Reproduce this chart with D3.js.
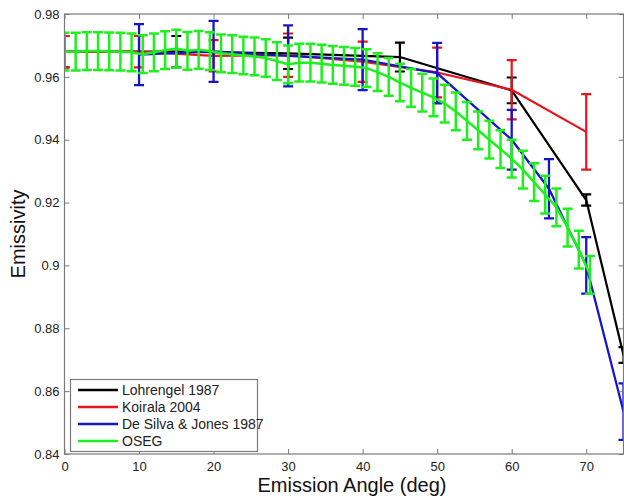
<!DOCTYPE html>
<html>
<head>
<meta charset="utf-8">
<script src="https://cdn.jsdelivr.net/npm/d3@7"></script>
<style>
  body { margin: 0; background: #fff; }
  svg { display: block; font-family: "Liberation Sans", Arial, sans-serif; }
</style>
</head>
<body>
<svg id="chart" width="624" height="500"></svg>
<script>
// data
var lohAngle = [0, 15, 30, 45, 60, 70, 75];
var lohValue = [0.968, 0.968, 0.9675, 0.9663, 0.9557, 0.9208, 0.8715];
var lohErr   = [0.005, 0.005, 0.005, 0.0046, 0.0041, 0.0018, 0.0025];

var koiAngle = [0, 10, 20, 30, 40, 50, 60, 70];
var koiValue = [0.968, 0.968, 0.9667, 0.9669, 0.9648, 0.9614, 0.9559, 0.9425];
var koiErr   = [0.005, 0.005, 0.005, 0.0069, 0.0064, 0.0079, 0.0094, 0.012];

var dsjAngle = [10, 20, 30, 40, 50, 60, 65, 70, 75];
var dsjValue = [0.9671, 0.9681, 0.9667, 0.9655, 0.9612, 0.94, 0.9244, 0.90, 0.8535];
var dsjErr   = [0.0097, 0.0097, 0.0097, 0.0097, 0.0096, 0.0095, 0.0094, 0.009, 0.009];

var osegAngle = [0, 1.5, 3, 4.5, 6, 7.5, 9, 10.5, 12, 13.5, 15, 16.5, 18, 19.5, 21, 22.5, 24, 25.5,
  27, 28.5, 30, 31.5, 33, 34.5, 36, 37.5, 39, 40.5, 42, 43.5, 45, 46.5, 48, 49.5, 51, 52.5,
  54, 55.5, 57, 58.5, 60, 61.5, 63, 64.5, 66, 67.5, 69, 70.5];
var osegValue = [0.968, 0.968, 0.9682, 0.9682, 0.9681, 0.968, 0.9678, 0.9672, 0.9678, 0.9685,
  0.969, 0.9683, 0.9686, 0.9682, 0.9675, 0.9672, 0.9668, 0.9665, 0.966, 0.965, 0.964, 0.9645,
  0.9645, 0.9642, 0.9638, 0.9635, 0.9632, 0.9628, 0.9615, 0.96, 0.9582, 0.9565, 0.955, 0.9535,
  0.9515, 0.949, 0.946, 0.943, 0.94, 0.937, 0.934, 0.9305, 0.9265, 0.9225, 0.9185, 0.912,
  0.905, 0.897];
var osegErr = 0.006;

var xTicks = [0, 10, 20, 30, 40, 50, 60, 70];
var yTicks = [0.84, 0.86, 0.88, 0.9, 0.92, 0.94, 0.96, 0.98];

var legendNames = ["Lohrengel 1987", "Koirala 2004", "De Silva & Jones 1987", "OSEG"];
var colors = ["#000000", "#e8141b", "#1616c8", "#1ef01e"];

var svg = d3.select("#chart");
var mLeft = 64.5, mRight = 623.5, mTop = 14, mBottom = 454;

var x = d3.scaleLinear().domain([0, 75]).range([mLeft, mRight]);
var y = d3.scaleLinear().domain([0.84, 0.98]).range([mBottom, mTop]);

svg.append("clipPath").attr("id", "plotclip")
  .append("rect")
  .attr("x", mLeft).attr("y", mTop)
  .attr("width", mRight - mLeft).attr("height", mBottom - mTop);

var plot = svg.append("g").attr("clip-path", "url(#plotclip)");

function series(angles, values, errs, color, cap, width) {
  var pts = angles.map(function(a, i) {
    return { a: a, v: values[i], e: Array.isArray(errs) ? errs[i] : errs };
  });
  var g = plot.append("g");
  g.append("path")
    .datum(pts)
    .attr("fill", "none")
    .attr("stroke", color)
    .attr("stroke-width", width)
    .attr("stroke-linejoin", "round")
    .attr("d", d3.line().x(function(d) { return x(d.a); }).y(function(d) { return y(d.v); }));
  var bars = g.selectAll("g.bar").data(pts).enter().append("g")
    .attr("stroke", color).attr("stroke-width", width);
  bars.append("line")
    .attr("x1", function(d) { return x(d.a); }).attr("x2", function(d) { return x(d.a); })
    .attr("y1", function(d) { return y(d.v + d.e); }).attr("y2", function(d) { return y(d.v - d.e); });
  bars.append("line")
    .attr("x1", function(d) { return x(d.a) - cap; }).attr("x2", function(d) { return x(d.a) + cap; })
    .attr("y1", function(d) { return y(d.v + d.e); }).attr("y2", function(d) { return y(d.v + d.e); });
  bars.append("line")
    .attr("x1", function(d) { return x(d.a) - cap; }).attr("x2", function(d) { return x(d.a) + cap; })
    .attr("y1", function(d) { return y(d.v - d.e); }).attr("y2", function(d) { return y(d.v - d.e); });
}

series(lohAngle, lohValue, lohErr, colors[0], 5, 2.2);
series(koiAngle, koiValue, koiErr, colors[1], 5, 2.2);
series(dsjAngle, dsjValue, dsjErr, colors[2], 5, 2.3);
series(osegAngle, osegValue, osegErr, colors[3], 5, 2.5);

// axes, matlab style box with inward ticks
var axisColor = "#7a7a7a";
function styleAxis(g) {
  g.select(".domain").remove();
  g.selectAll(".tick line").attr("stroke", axisColor);
  g.selectAll(".tick text").attr("fill", "#222").style("font-size", "13px");
}
var fmt = function(d) { return String(+d.toFixed(2)); };

svg.append("g").attr("transform", "translate(0," + mBottom + ")")
  .call(d3.axisBottom(x).tickValues(xTicks).tickSize(-5).tickPadding(8))
  .call(styleAxis);
svg.append("g").attr("transform", "translate(0," + mTop + ")")
  .call(d3.axisTop(x).tickValues(xTicks).tickSize(-5).tickFormat(""))
  .call(styleAxis);
svg.append("g").attr("transform", "translate(" + mLeft + ",0)")
  .call(d3.axisLeft(y).tickValues(yTicks).tickSize(-5).tickPadding(5).tickFormat(fmt))
  .call(styleAxis);
svg.append("g").attr("transform", "translate(" + mRight + ",0)")
  .call(d3.axisRight(y).tickValues(yTicks).tickSize(-5).tickFormat(""))
  .call(styleAxis);

svg.append("rect")
  .attr("x", mLeft).attr("y", mTop)
  .attr("width", mRight - mLeft).attr("height", mBottom - mTop)
  .attr("fill", "none").attr("stroke", axisColor).attr("stroke-width", 1.2);

svg.append("text")
  .attr("x", 352).attr("y", 492)
  .attr("text-anchor", "middle")
  .style("font-size", "20px").attr("fill", "#111")
  .text("Emission Angle (deg)");

svg.append("text")
  .attr("transform", "translate(25," + (mTop + mBottom) / 2 + ") rotate(-90)")
  .attr("text-anchor", "middle")
  .style("font-size", "20px").attr("fill", "#111")
  .text("Emissivity");

// legend
var lg = svg.append("g");
lg.append("rect")
  .attr("x", 70.5).attr("y", 379.5).attr("width", 187).attr("height", 72)
  .attr("fill", "#fff").attr("stroke", axisColor).attr("stroke-width", 1.2);
var items = lg.selectAll("g.item").data(legendNames).enter().append("g")
  .attr("transform", function(d, i) { return "translate(0," + (390 + i * 17) + ")"; });
items.append("line")
  .attr("x1", 78).attr("x2", 118).attr("y1", 0).attr("y2", 0)
  .attr("stroke", function(d, i) { return colors[i]; }).attr("stroke-width", 2.4);
items.append("text")
  .attr("x", 122).attr("y", 5)
  .style("font-size", "14px").attr("fill", "#222")
  .text(function(d) { return d; });
</script>
</body>
</html>
